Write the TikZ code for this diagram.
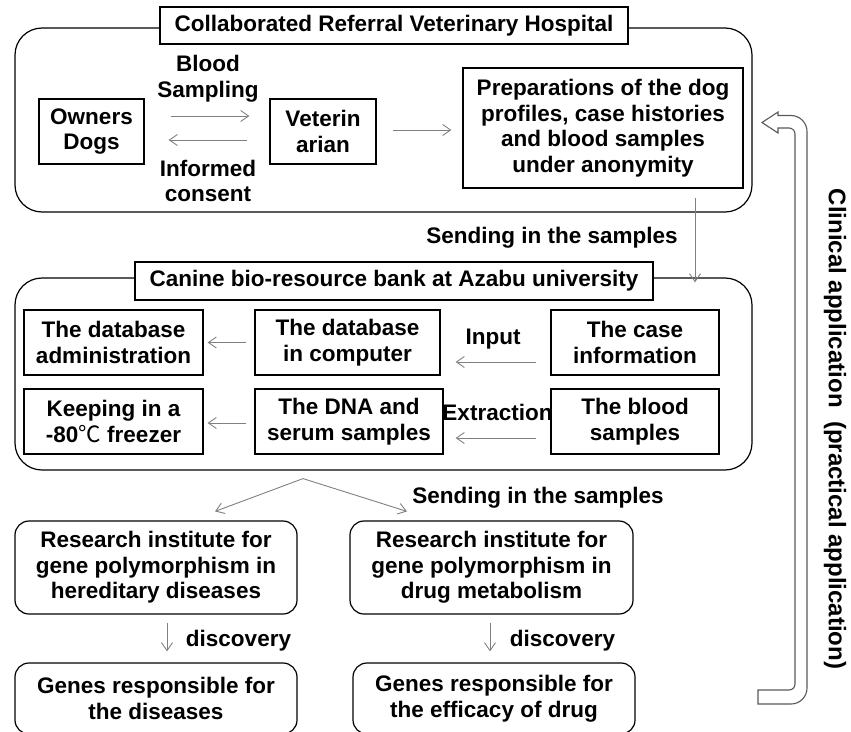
\documentclass[tikz,border=0pt]{standalone}
\usepackage{fontspec}
\setmainfont{Liberation Sans}
\newfontfamily\cjkfont{Noto Sans CJK JP}
\usetikzlibrary{arrows.meta,calc}
\begin{document}
\begin{tikzpicture}[x=1pt,y=-1pt]
\tikzset{
  txt/.style={font=\fontsize{22.5}{25.5}\selectfont\bfseries, align=center, inner sep=0pt},
  sqbox/.style={txt, draw, line width=1.2pt, minimum height=65pt},
  rbox/.style={txt, draw, line width=1.2pt, rounded corners=14pt},
  cont/.style={draw, line width=1.2pt, rounded corners=27pt},
  titlebox/.style={txt, draw, fill=white, line width=1.2pt},
  arr/.style={draw=black!50, line width=0.9pt, -{Straight Barb[length=8pt,width=11pt]}},
  uarrow/.style={draw=black!65, line width=1.1pt, fill=white},
}
\useasboundingbox (0,0) rectangle (851,731);

% containers
\node[cont, minimum width=737pt, minimum height=184pt] (hosp) at (383.5,120) {};
\node[cont, minimum width=737pt, minimum height=192pt] (bank) at (383.5,374) {};
\node[titlebox, minimum width=468pt, minimum height=37pt] (hosptitle) at (394,25.5) {Collaborated Referral Veterinary Hospital};
\node[titlebox, minimum width=518pt, minimum height=38pt] (banktitle) at (394,281) {Canine bio-resource bank at Azabu university};

% hospital
\node[sqbox, minimum width=105pt] (owners) at (91.5,131.5) {Owners\\Dogs};
\node[sqbox, minimum width=106pt] (vet) at (323,131.5) {Veterin\\arian};
\node[sqbox, minimum width=280pt, minimum height=120pt] (prep) at (603,128) {Preparations of the dog\\profiles, case histories\\and blood samples\\under anonymity};
\node[txt] (bloodlbl) at (208,78.5) {Blood\\Sampling};
\node[txt] (consentlbl) at (208,181) {Informed\\consent};

\draw[arr] ($(owners.east)+(26,-15.5)$) -- ($(vet.west)+(-20,-15.5)$);
\draw[arr] ($(vet.west)+(-22,8.5)$) -- ($(owners.east)+(24,8.5)$);
\draw[arr] ($(vet.east)+(16,-1.5)$) -- ($(prep.west)+(-11,2)$);

\node[txt] (send1) at (552,238) {Sending in the samples};
\draw[arr] ($(prep.south)+(92,9)$) -- ($(bank.north)+(311.5,5)$);

% bank
\node[sqbox, minimum width=179pt] (admin) at (113.5,342.5) {The database\\administration};
\node[sqbox, minimum width=185pt] (comp) at (347.5,342.5) {The database\\in computer};
\node[sqbox, minimum width=168pt] (case) at (635,342.5) {The case\\information};
\node[sqbox, minimum width=179pt] (keep) at (113.5,421.5) {Keeping in a\\-80{\mdseries\cjkfont ℃} freezer};
\node[sqbox, minimum width=188pt] (dna) at (349,421.5) {The DNA and\\serum samples};
\node[sqbox, minimum width=168pt] (blood) at (635,421.5) {The blood\\samples};
\node[txt] (inputlbl) at (493,339) {Input};
\node[txt] (extrlbl) at (497.5,412) {Extraction};

\draw[arr] ($(comp.west)+(-8,0)$) -- ($(admin.east)+(4,0)$);
\draw[arr] ($(dna.west)+(-8,1.5)$) -- ($(keep.east)+(4,1.5)$);
\draw[arr] ($(case.west)+(-14,19.5)$) -- ($(comp.east)+(15,19.5)$);
\draw[arr] ($(blood.west)+(-14,16.5)$) -- ($(dna.east)+(12,16.5)$);

% research
\node[rbox, minimum width=282pt, minimum height=93pt] (res1) at (156,567.5) {Research institute for\\gene polymorphism in\\hereditary diseases};
\node[rbox, minimum width=283pt, minimum height=93pt] (res2) at (491.5,567.5) {Research institute for\\gene polymorphism in\\drug metabolism};
\node[rbox, minimum width=282pt, minimum height=71pt] (genes1) at (156,698.5) {Genes responsible for\\the diseases};
\node[rbox, minimum width=282pt, minimum height=71pt] (genes2) at (494,698.5) {Genes responsible for\\the efficacy of drug};

\node[txt] (send2) at (538,498) {Sending in the samples};
\coordinate (split) at ($(bank.south)+(-80.5,8)$);
\draw[arr] (split) -- ($(res1.north)+(59,-9)$);
\draw[arr] (split) -- ($(res2.north)+(-84.5,-9)$);

\node[txt] (disc1) at (238.5,641) {discovery};
\node[txt] (disc2) at (562.5,641) {discovery};
\draw[arr] ($(res1.south)+(11,8)$) -- ($(genes1.north)+(11,-11)$);
\draw[arr] ($(res2.south)+(-1.5,8)$) -- ($(genes2.north)+(-4,-11)$);

% clinical application feedback arrow
\draw[uarrow] (762,122.5) -- (778,112) -- (778,115.5) [rounded corners=16pt] -- (807,115.5) -- (807,704) [sharp corners] -- (758,704) -- (758,690) [rounded corners=6pt] -- (795,690) -- (795,128) [sharp corners] -- (778,128) -- (778,133) -- cycle;
\node[txt, rotate=-90, font=\fontsize{24}{27}\selectfont\bfseries] (clin) at (835,429) {Clinical application\ \ (practical application)};
\end{tikzpicture}
\end{document}
